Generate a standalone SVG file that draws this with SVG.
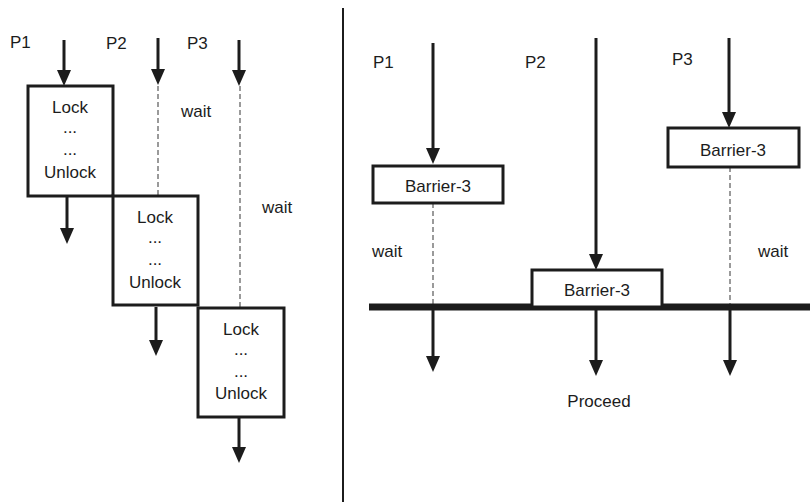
<svg xmlns="http://www.w3.org/2000/svg" width="810" height="502" viewBox="0 0 810 502">
<defs>
<marker id="ah" viewBox="0 0 16 14" markerUnits="userSpaceOnUse" markerWidth="16" markerHeight="14" refX="2" refY="7" orient="auto">
<path d="M0,0 L16,7 L0,14 z" fill="#1c1c1c"/>
</marker>
</defs>
<style>
text{font-family:"Liberation Sans",Arial,sans-serif;font-size:17px;fill:#1c1c1c}
.c{text-anchor:middle}
.box{fill:#fff;stroke:#1c1c1c;stroke-width:3}
.arr{stroke:#1c1c1c;stroke-width:3;fill:none;marker-end:url(#ah)}
.dash{stroke:#9a9a9a;stroke-width:2;stroke-dasharray:5,3;fill:none}
</style>
<rect width="810" height="502" fill="#fff"/>
<line x1="343" y1="8" x2="343" y2="502" stroke="#1c1c1c" stroke-width="2"/>

<g id="connectors">
<line class="dash" x1="158" y1="86" x2="158" y2="196"/>
<line class="dash" x1="240" y1="86" x2="240" y2="308"/>
<line class="arr" x1="64" y1="40" x2="64" y2="72"/>
<line class="arr" x1="158" y1="38" x2="158" y2="71"/>
<line class="arr" x1="239" y1="40" x2="239" y2="72"/>
<line class="arr" x1="67" y1="197" x2="67" y2="230"/>
<line class="arr" x1="156" y1="307" x2="156" y2="342"/>
<line class="arr" x1="239" y1="418" x2="239" y2="449"/>
<line class="dash" x1="433" y1="203" x2="433" y2="304"/>
<line class="dash" x1="730" y1="167" x2="730" y2="304"/>
<line class="arr" x1="433" y1="43" x2="433" y2="150"/>
<line class="arr" x1="596" y1="38" x2="596" y2="256"/>
<line class="arr" x1="729" y1="38" x2="729" y2="114"/>
<line class="arr" x1="433" y1="310" x2="433" y2="358"/>
<line class="arr" x1="596" y1="310" x2="596" y2="362"/>
<line class="arr" x1="730" y1="310" x2="730" y2="362"/>
<line x1="369" y1="307" x2="810" y2="307" stroke="#1c1c1c" stroke-width="7"/>
</g>

<g id="labels">
<text x="10" y="48">P1</text>
<text x="106" y="49">P2</text>
<text x="187" y="49">P3</text>
<text x="181" y="117">wait</text>
<text x="262" y="213">wait</text>
<text x="373" y="68">P1</text>
<text x="525" y="68">P2</text>
<text x="672" y="65">P3</text>
<text x="372" y="257">wait</text>
<text x="758" y="257">wait</text>
<text class="c" x="599" y="407">Proceed</text>
</g>

<g id="lock1">
<rect class="box" x="28" y="86" width="85" height="110"/>
<text class="c" x="70" y="113">Lock</text>
<text class="c" x="70" y="133">...</text>
<text class="c" x="70" y="155">...</text>
<text class="c" x="70" y="178">Unlock</text>
</g>
<g id="lock2">
<rect class="box" x="113" y="196" width="85" height="109"/>
<text class="c" x="155" y="223">Lock</text>
<text class="c" x="155" y="243">...</text>
<text class="c" x="155" y="265">...</text>
<text class="c" x="155" y="288">Unlock</text>
</g>
<g id="lock3">
<rect class="box" x="198" y="308" width="86" height="109"/>
<text class="c" x="241" y="335">Lock</text>
<text class="c" x="241" y="355">...</text>
<text class="c" x="241" y="377">...</text>
<text class="c" x="241" y="399">Unlock</text>
</g>

<g id="barrier1">
<rect class="box" x="373" y="166" width="130" height="37"/>
<text class="c" x="438" y="192">Barrier-3</text>
</g>
<g id="barrier2">
<rect class="box" x="532" y="270" width="130" height="37"/>
<text class="c" x="597" y="296">Barrier-3</text>
</g>
<g id="barrier3">
<rect class="box" x="668" y="128" width="131" height="39"/>
<text class="c" x="733" y="156">Barrier-3</text>
</g>
</svg>
